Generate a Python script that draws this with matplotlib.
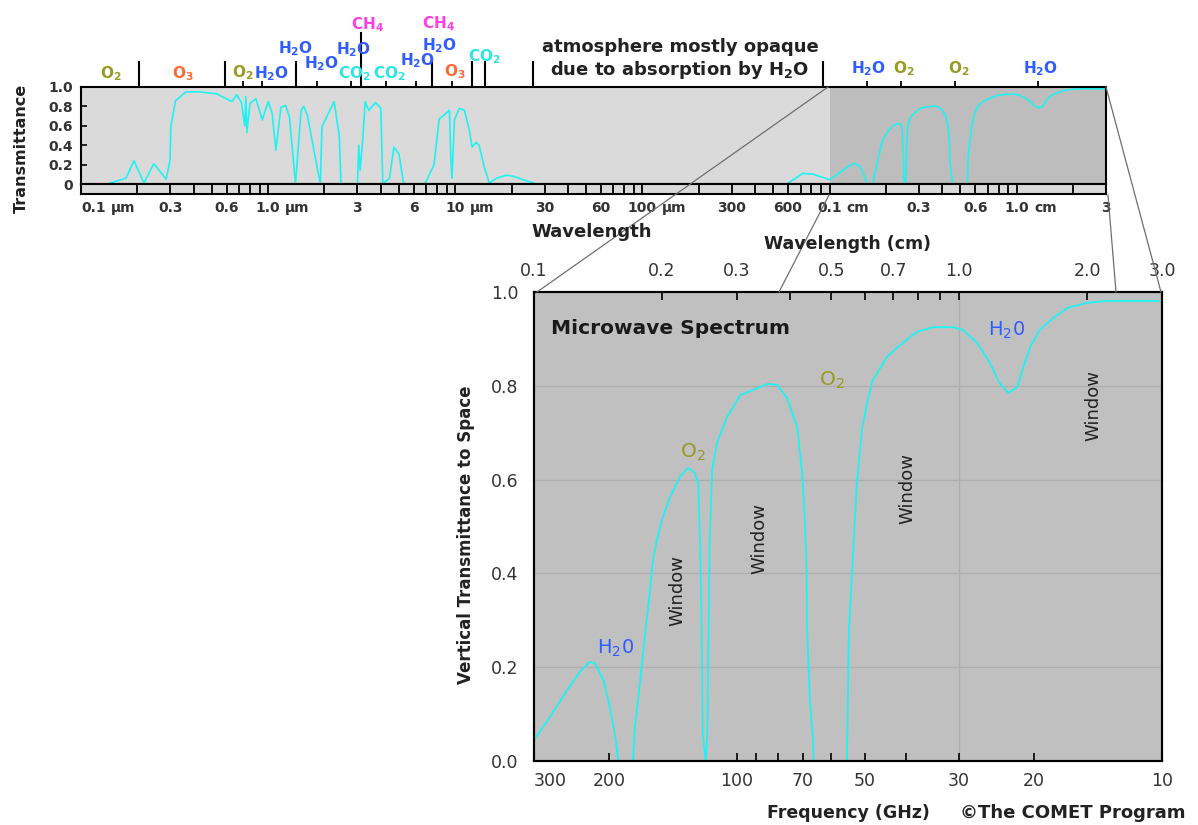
import numpy as np
import matplotlib.pyplot as plt
from matplotlib.lines import Line2D
from matplotlib.ticker import LogLocator, NullLocator, NullFormatter, FixedLocator
from matplotlib.transforms import blended_transform_factory

# ---- data ----
# full spectrum strip: UV / visible / IR part (wavelength in micrometres)
ir_wl = [0.143, 0.174, 0.192, 0.217, 0.245, 0.285, 0.299, 0.302, 0.32, 0.364,
         0.43, 0.53, 0.64, 0.68, 0.72, 0.75, 0.76, 0.77, 0.8, 0.86,
         0.93, 1.0, 1.05, 1.1, 1.17, 1.24, 1.3, 1.4, 1.5, 1.55,
         1.62, 1.9, 1.94, 2.25, 2.4, 2.45, 3.0, 3.05, 3.1, 3.2,
         3.3, 3.45, 3.75, 4.0, 4.1, 4.45, 4.7, 5.0, 5.3, 6.8,
         7.0, 7.7, 8.2, 8.7, 9.3, 9.5, 9.6, 9.9, 10.5, 11.2,
         11.9, 12.3, 12.9, 13.4, 14.3, 15.2, 16.6, 18.7, 20.5, 23.3,
         26.3]
ir_T = [0.01, 0.06, 0.24, 0.01, 0.21, 0.05, 0.24, 0.59, 0.86, 0.95,
        0.95, 0.93, 0.85, 0.92, 0.84, 0.6, 0.9, 0.53, 0.83, 0.88,
        0.66, 0.85, 0.73, 0.35, 0.79, 0.81, 0.69, 0.0, 0.76, 0.8,
        0.71, 0.0, 0.59, 0.85, 0.5, 0.0, 0.0, 0.4, 0.14, 0.45,
        0.85, 0.76, 0.84, 0.78, 0.0, 0.06, 0.38, 0.31, 0.0, 0.0,
        0.03, 0.2, 0.67, 0.71, 0.76, 0.2, 0.06, 0.66, 0.78, 0.76,
        0.55, 0.38, 0.43, 0.4, 0.17, 0.01, 0.06, 0.09, 0.08, 0.04,
        0.01]
# sub-millimetre bit just before the microwave zoom (micrometres)
submm_wl = [590, 720, 820]
submm_T = [0.0, 0.11, 0.10]

# microwave panel (frequency in GHz)
mw_freq = [300, 275, 251, 234, 222, 216, 206, 199, 193, 190,
           175.5, 173.7, 169, 165.3, 160.7, 157.4, 154.2, 150, 143.6, 136.1,
           130.3, 125.4, 123.3, 122.1, 121.0, 120.3, 118.5, 117.3, 116.8, 116.3,
           115.9, 114.3, 111.4, 105.5, 98.2, 89.6, 84.5, 80.4, 76.2, 72.1,
           70.3, 69.2, 68.5, 68.4, 67.3, 66.2, 66.0, 55.1, 54.5, 53.6,
           52.2, 50.8, 49.4, 47.9, 44.4, 41.3, 37.7, 34.6, 31.0, 29.4,
           27.2, 25.4, 24.1, 23.0, 21.9, 21.2, 20.4, 19.4, 18.0, 16.7,
           15.0, 13.5, 11.7, 10.0]
mw_T = [0.045, 0.094, 0.151, 0.19, 0.211, 0.209, 0.173, 0.115, 0.051, 0.0,
        0.0, 0.073, 0.166, 0.25, 0.35, 0.43, 0.471, 0.514, 0.563, 0.606,
        0.625, 0.614, 0.593, 0.478, 0.29, 0.06, 0.0, 0.06, 0.21, 0.34,
        0.46, 0.62, 0.678, 0.733, 0.78, 0.795, 0.804, 0.802, 0.774, 0.712,
        0.62, 0.514, 0.407, 0.286, 0.13, 0.045, 0.0, 0.0, 0.279, 0.40,
        0.593, 0.706, 0.763, 0.812, 0.861, 0.887, 0.915, 0.925, 0.925, 0.919,
        0.891, 0.849, 0.806, 0.785, 0.797, 0.84, 0.883, 0.919, 0.945, 0.966,
        0.977, 0.981, 0.981, 0.981]

# absorption band markers above the strip (micrometres)
band_edges = [0.204, 0.588, 1.41, 7.53, 12.3, 14.5, 26.1, 918]
band_ch4 = [3.12]
band_small = [0.73, 0.93, 1.83, 2.78, 4.27, 6.2, 9.6, 1580, 2400, 4700, 13000]

# wavelength labels under the strip
bar_vals = [0.1, 0.3, 0.6, 1, 3, 6, 10, 30, 60, 100, 300, 600,
            1000, 3000, 6000, 10000, 30000]
bar_nums = ['0.1', '0.3', '0.6', '1.0', '3', '6', '10', '30', '60', '100', '300', '600',
            '0.1', '0.3', '0.6', '1.0', '3']
bar_units = {0: 'µm', 3: 'µm', 6: 'µm', 9: 'µm', 12: 'cm', 15: 'cm'}

freq_ticks = [300, 200, 100, 70, 50, 30, 20, 10]
freq_minor = [90, 80, 60, 40]
cm_ticks = [0.1, 0.2, 0.3, 0.5, 0.7, 1.0, 2.0, 3.0]
cm_minor = [0.4, 0.6, 0.8, 0.9]

CYAN = '#1ff2f2'
O2C, O3C, H2OC, CH4C, CO2C = '#9a9a22', '#ff6a33', '#2f5cff', '#ff3ee8', '#2ce6e6'

W, H = 1198, 825
fig = plt.figure(figsize=(W / 100, H / 100), dpi=100)


def rect(l, t, r, b):
    return [l / W, 1 - b / H, (r - l) / W, (b - t) / H]


def fxy(x, y):
    return x / W, 1 - y / H


# ---- top strip: whole spectrum ----
ax_top = fig.add_axes(rect(81, 87, 1106, 184))
ax_top.set_xscale('log')
ax_top.set_xlim(0.1, 30000)
ax_top.set_ylim(0, 1)
ax_top.set_facecolor('#dadada')
ax_top.axvspan(1000, 30000, color='#bdbdbd', lw=0)

mw_wl = 3e5 / np.array(mw_freq)   # GHz -> micrometres
ax_top.plot(ir_wl, ir_T, color=CYAN, lw=1.2)
ax_top.plot(np.concatenate([submm_wl, mw_wl]), np.concatenate([submm_T, mw_T]),
            color=CYAN, lw=1.2)

ax_top.xaxis.set_major_locator(NullLocator())
ax_top.xaxis.set_minor_locator(NullLocator())
ax_top.set_yticks([0, 0.2, 0.4, 0.6, 0.8, 1.0], ['0', '0.2', '0.4', '0.6', '0.8', '1.0'])
ax_top.tick_params(axis='y', direction='in', length=4, width=1.2, pad=6,
                   labelsize=10)
for lab in ax_top.get_yticklabels():
    lab.set_fontweight('bold')
    lab.set_color('#333333')
for sp in ax_top.spines.values():
    sp.set_linewidth(1.5)

xt = ax_top.get_xaxis_transform()
ax_top.vlines(band_edges, 1, 1.27, transform=xt, colors='k', lw=1.5, clip_on=False)
ax_top.vlines(band_ch4, 1, 1.57, transform=xt, colors='k', lw=1.5, clip_on=False)
ax_top.vlines(band_small, 1, 1.065, transform=xt, colors='k', lw=1.3, clip_on=False)

# tick bar below the strip
ax_bar = fig.add_axes(rect(81, 184, 1106, 194))
ax_bar.set_xscale('log')
ax_bar.set_xlim(0.1, 30000)
ax_bar.set_facecolor('#dadada')
ax_bar.set_yticks([])
ax_bar.xaxis.set_major_locator(LogLocator(base=10, subs=range(1, 10), numticks=200))
ax_bar.xaxis.set_minor_locator(NullLocator())
ax_bar.xaxis.set_major_formatter(NullFormatter())
ax_bar.tick_params(axis='x', direction='in', length=7.5, width=1.3, top=False)
for sp in ax_bar.spines.values():
    sp.set_linewidth(1.5)

bt = blended_transform_factory(ax_bar.transData, fig.transFigure)
for i, (v, s) in enumerate(zip(bar_vals, bar_nums)):
    t = ax_bar.text(v, 1 - 212 / H, s, transform=bt, ha='left' if i == 0 else 'center',
                    va='baseline', fontsize=10, fontweight='bold', color='#333333')
    if i in bar_units:
        ax_bar.annotate(bar_units[i], xy=(1, 1 - 212 / H), xycoords=(t, 'figure fraction'),
                        xytext=(3.5, 0), textcoords='offset points', ha='left',
                        va='baseline', fontsize=10, fontweight='bold', color='#333333')

fig.text(*fxy(592, 232), 'Wavelength', ha='center', va='center', fontsize=13,
         fontweight='bold', color='#222222')
fig.text(*fxy(21, 148), 'Transmittance', ha='center', va='center', rotation=90,
         fontsize=11.5, fontweight='bold', color='#222222')

# gas labels above the strip
h2o = r'H$_\mathbf{2}$O'
o2 = r'O$_\mathbf{2}$'
o3 = r'O$_\mathbf{3}$'
co2 = r'CO$_\mathbf{2}$'
ch4 = r'CH$_\mathbf{4}$'
gas = [(o2, O2C, 111, 78), (o3, O3C, 183, 78), (o2, O2C, 243, 77), (h2o, H2OC, 272, 78),
       (h2o, H2OC, 296, 53), (h2o, H2OC, 322, 68), (h2o, H2OC, 354, 54),
       (ch4, CH4C, 368, 29), (co2, CO2C, 354, 78), (co2, CO2C, 389, 78),
       (h2o, H2OC, 418, 65), (ch4, CH4C, 439, 28), (h2o, H2OC, 440, 50),
       (o3, O3C, 455, 76), (co2, CO2C, 484, 61),
       (h2o, H2OC, 869, 73), (o2, O2C, 904, 73), (o2, O2C, 959, 73), (h2o, H2OC, 1041, 73)]
for s, c, x, y in gas:
    fig.text(*fxy(x, y), s, color=c, ha='center', va='baseline', fontsize=11,
             fontweight='bold')

fig.text(*fxy(680, 52), 'atmosphere mostly opaque', ha='center', va='baseline',
         fontsize=13, fontweight='bold', color='#222222')
fig.text(*fxy(680, 75), r'due to absorption by H$_\mathbf{2}$O', ha='center',
         va='baseline', fontsize=13, fontweight='bold', color='#222222')

# ---- microwave panel ----
ax = fig.add_axes(rect(534, 292, 1162, 761))
ax.set_xscale('log')
ax.set_xlim(300, 10)
ax.set_ylim(0, 1)
ax.set_facecolor('#c0c0c0')
for yv in [0.2, 0.4, 0.6, 0.8]:
    ax.axhline(yv, color='#adadad', lw=0.9, zorder=1)
ax.axvline(30, color='#adadad', lw=0.9, zorder=1)
ax.plot(mw_freq, mw_T, color=CYAN, lw=1.3, zorder=2)

ax.set_xticks(freq_ticks, [str(f) for f in freq_ticks])
ax.xaxis.set_minor_locator(FixedLocator(freq_minor))
ax.xaxis.set_minor_formatter(NullFormatter())
ax.tick_params(axis='x', which='both', direction='in', length=5.5, width=1.2,
               pad=8, labelsize=12.5, labelcolor='#333333')
ax.get_xticklabels()[0].set_horizontalalignment('left')
ax.set_yticks([0, 0.2, 0.4, 0.6, 0.8, 1.0], ['0.0', '0.2', '0.4', '0.6', '0.8', '1.0'])
ax.tick_params(axis='y', length=0, pad=11, labelsize=12.5, labelcolor='#333333')
for sp in ax.spines.values():
    sp.set_linewidth(1.5)

ax2 = ax.twiny()
ax2.set_xscale('log')
ax2.set_xlim(0.1, 3.0)
ax2.set_xticks(cm_ticks, ['%.1f' % c for c in cm_ticks])
ax2.xaxis.set_minor_locator(FixedLocator(cm_minor))
ax2.xaxis.set_minor_formatter(NullFormatter())
ax2.tick_params(axis='x', which='both', direction='in', length=5.5, width=1.2,
                pad=9, labelsize=12.5, labelcolor='#333333')
for sp in ax2.spines.values():
    sp.set_linewidth(1.5)

fig.text(*fxy(551, 329), 'Microwave Spectrum', ha='left', va='center', fontsize=14.5,
         fontweight='bold', color='#1a1a1a')
fig.text(*fxy(616, 654), r'H$_2$0', color=H2OC, ha='center', va='baseline', fontsize=14)
fig.text(*fxy(1007, 336), r'H$_2$0', color=H2OC, ha='center', va='baseline', fontsize=14)
fig.text(*fxy(693, 458), r'O$_2$', color=O2C, ha='center', va='baseline', fontsize=14.5)
fig.text(*fxy(832, 386), r'O$_2$', color=O2C, ha='center', va='baseline', fontsize=14.5)
for x, y in [(677, 590), (759, 538), (907, 488), (1093, 405)]:
    fig.text(*fxy(x, y), 'Window', rotation=90, ha='center', va='center',
             fontsize=13, color='#222222')

fig.text(*fxy(466, 535), 'Vertical Transmittance to Space', rotation=90, ha='center',
         va='center', fontsize=12, fontweight='bold', color='#222222')
fig.text(*fxy(848, 244), 'Wavelength (cm)', ha='center', va='center', fontsize=12.5,
         fontweight='bold', color='#222222')
fig.text(*fxy(848, 813), 'Frequency (GHz)', ha='center', va='center', fontsize=12.5,
         fontweight='bold', color='#222222')
fig.text(*fxy(1073, 813), '©The COMET Program', ha='center', va='center', fontsize=13,
         fontweight='bold', color='#222222')

# connector lines from the strip to the zoomed panel
for (x1, y1), (x2, y2) in [((828, 87), (537, 292)), ((829, 195), (779, 292)),
                           ((1106, 87), (1161, 292)), ((1108, 195), (1116, 292))]:
    fig.add_artist(Line2D([x1 / W, x2 / W], [1 - y1 / H, 1 - y2 / H],
                          transform=fig.transFigure, color='#6e6e6e', lw=0.9))

fig.savefig('out.png', dpi=100)
